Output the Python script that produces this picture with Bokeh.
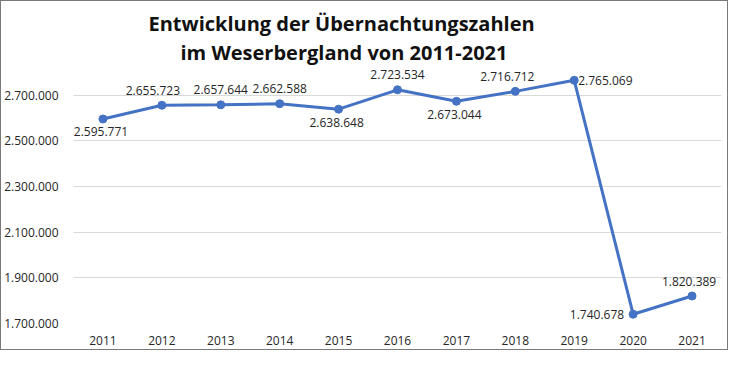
from bokeh.plotting import figure
from bokeh.layouts import column
from bokeh.models import ColumnDataSource, Range1d, FixedTicker, CustomJSTickFormatter, Title
from bokeh.core.properties import value
from bokeh.embed import file_html
from bokeh.resources import INLINE

# ---- data ----
years = [2011, 2012, 2013, 2014, 2015, 2016, 2017, 2018, 2019, 2020, 2021]
overnights = [2595771, 2655723, 2657644, 2662588, 2638648, 2723534,
              2673044, 2716712, 2765069, 1740678, 1820389]
y_ticks = [1700000, 1900000, 2100000, 2300000, 2500000, 2700000]
title_lines = ["Entwicklung der Übernachtungszahlen", "im Weserbergland von 2011-2021"]

# ---- label placement (layout) ----
placement = ["below", "above", "above", "above", "below", "above",
             "below", "above", "right", "left", "above"]
nudge_x = {2012: -9, 2018: -8, 2021: -3}

def fmt(v):
    return f"{v:,}".replace(",", ".")

xo, yo, al = [], [], []
for yr, pl in zip(years, placement):
    dx = nudge_x.get(yr, 0)
    if pl == "above":
        xo.append(dx); yo.append(-15); al.append("center")
    elif pl == "below":
        xo.append(dx - 2); yo.append(13); al.append("center")
    elif pl == "right":
        xo.append(4); yo.append(0); al.append("left")
    else:
        xo.append(-9); yo.append(0); al.append("right")

src = ColumnDataSource(dict(x=years, y=overnights, lbl=[fmt(v) for v in overnights],
                            xo=xo, yo=yo, al=al))

BLUE = "#4472C4"
FONT = "Open Sans"

p = figure(width=726, height=348, output_backend="svg", toolbar_location=None,
           x_range=Range1d(min(years) - 0.5, max(years) + 0.5),
           y_range=Range1d(1700000, 2830000),
           min_border_left=66, min_border_right=6, min_border_top=64, min_border_bottom=26)

p.outline_line_color = None
p.background_fill_color = "white"
p.border_fill_color = "white"

p.xgrid.grid_line_color = None
p.ygrid.grid_line_color = "#d9d9d9"
p.ygrid.grid_line_width = 1

p.yaxis.ticker = FixedTicker(ticks=y_ticks)
p.yaxis.formatter = CustomJSTickFormatter(code="""
return Math.round(tick).toString().replace(/\\B(?=(\\d{3})+(?!\\d))/g, '.');
""")
p.xaxis.ticker = FixedTicker(ticks=years)
for ax in (p.xaxis[0], p.yaxis[0]):
    ax.axis_line_color = None
    ax.major_tick_line_color = None
    ax.minor_tick_line_color = None
    ax.major_label_text_font = FONT
    ax.major_label_text_font_size = "12px"
    ax.major_label_text_color = "#262626"
p.yaxis.major_label_standoff = 9
p.xaxis.major_label_standoff = 6

p.line("x", "y", source=src, line_color=BLUE, line_width=3)
p.scatter("x", "y", source=src, size=8, fill_color=BLUE, line_color=BLUE)
p.text("x", "y", text="lbl", source=src, x_offset="xo", y_offset="yo", text_align="al",
       text_baseline="middle", text_font=value(FONT), text_font_size="12px", text_color="#262626")

t2 = Title(text=title_lines[1], align="left", offset=107, text_font=FONT, text_font_style="bold",
           text_font_size="20px", text_color="#111111", standoff=0)
t1 = Title(text=title_lines[0], align="left", offset=75, text_font=FONT, text_font_style="bold",
           text_font_size="20px", text_color="#111111", standoff=0)
p.add_layout(t2, "above")
p.add_layout(t1, "above")

page = column(p, width=728, height=350, styles={"border": "1px solid #7a7a7a"})

open("out.html", "w").write(file_html(page, INLINE))
